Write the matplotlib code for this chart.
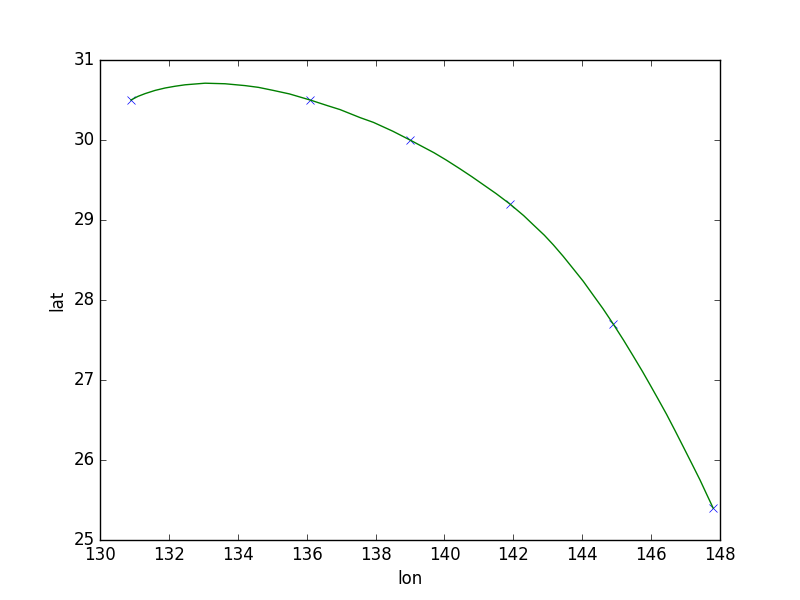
import matplotlib
matplotlib.use('Agg')
import matplotlib.pyplot as plt

plt.style.use('classic')

# measured points
lon = [130.9, 136.1, 139.0, 141.9, 144.9, 147.8]
lat = [30.5, 30.5, 30.0, 29.2, 27.7, 25.4]

# smooth curve
curve_lon = [130.9, 131.1, 131.31, 131.6, 131.89, 132.18, 132.47, 132.76,
             133.05, 133.63, 134.21, 134.6, 135.03, 135.5, 136.1, 136.6,
             136.97, 137.55, 137.94, 138.5, 139.0, 139.35, 139.7, 140.05,
             140.45, 140.8, 141.2, 141.5, 141.9, 142.3, 142.58, 142.9,
             143.16, 143.45, 143.74, 144.03, 144.32, 144.6, 144.9, 145.2,
             145.48, 145.75, 145.97, 146.2, 146.45, 146.7, 146.94, 147.18,
             147.42, 147.62, 147.8]
curve_lat = [30.5, 30.545, 30.58, 30.62, 30.65, 30.672, 30.69, 30.70,
             30.71, 30.703, 30.68, 30.658, 30.62, 30.576, 30.5, 30.43,
             30.38, 30.28, 30.22, 30.11, 30.0, 29.92, 29.84, 29.75,
             29.64, 29.54, 29.42, 29.33, 29.2, 29.055, 28.94, 28.81,
             28.69, 28.545, 28.39, 28.234, 28.06, 27.893, 27.7, 27.498,
             27.30, 27.106, 26.94, 26.764, 26.57, 26.363, 26.16, 25.956,
             25.75, 25.565, 25.4]

fig = plt.figure(figsize=(8, 6), dpi=100)
plt.plot(lon, lat, 'x', color='b')
plt.plot(curve_lon, curve_lat, '-', color='g')
plt.xlim(130, 148)
plt.ylim(25, 31)
plt.xlabel('lon')
plt.ylabel('lat')
fig.savefig('out.png', dpi=100, facecolor='white')
